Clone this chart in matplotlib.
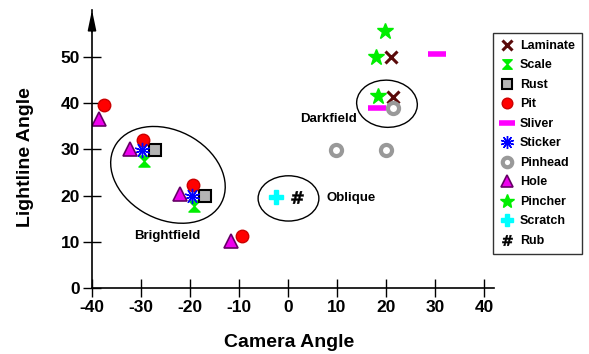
import numpy as np
import matplotlib
matplotlib.use("Agg")
import matplotlib.pyplot as plt
from matplotlib.patches import Ellipse
from matplotlib.path import Path

plt.rcParams['font.family'] = ['Liberation Sans', 'DejaVu Sans']
plt.rcParams['font.weight'] = 'bold'
plt.rcParams['axes.unicode_minus'] = False

# Data (camera angle, lightline angle) per defect type
laminate_x = [21, 21.5]
laminate_y = [50, 41.3]
scale_x = [-29.3, -19.2]
scale_y = [27.5, 17.7]
rust_x = [-27.2, -17]
rust_y = [29.9, 19.9]
pit_x = [-37.6, -29.6, -19.3, -9.3]
pit_y = [39.6, 32, 22.3, 11.2]
sliver_x = [30.4, 18.2]
sliver_y = [50.6, 39]
sticker_x = [-29.7, -19.5]
sticker_y = [29.9, 19.9]
pinhead_x = [21.4, 9.8, 20]
pinhead_y = [39, 29.9, 29.9]
hole_x = [-38.6, -32.2, -22, -11.6]
hole_y = [36.6, 30.1, 20.4, 10.1]
pincher_x = [19.8, 18, 18.3]
pincher_y = [55.6, 50, 41.5]
scratch_x = [-2.4]
scratch_y = [19.7]
rub_x = [1.8]
rub_y = [19.6]

xticks = [-40, -30, -20, -10, 0, 10, 20, 30, 40]
yticks = [0, 10, 20, 30, 40, 50]

# grouping curves: (center x, center y, width, height, angle, label, label x, label y)
groups = [
    (-24.5, 24.5, 25.0, 19.0, -33, "Brightfield", -24.7, 11.3),
    (20.2, 39.9, 12.4, 10.2, -5, "Darkfield", 8.3, 36.6),
    (0.1, 19.4, 12.4, 9.8, 0, "Oblique", 12.9, 19.4),
]

hourglass = Path([(-1, 1), (1, 1), (0, 0), (1, -1), (-1, -1), (0, 0), (-1, 1)],
                 [Path.MOVETO, Path.LINETO, Path.LINETO, Path.LINETO,
                  Path.LINETO, Path.LINETO, Path.CLOSEPOLY])

fig = plt.figure(figsize=(5.89, 3.54), dpi=100)
ax = fig.add_axes([92 / 589, 66 / 354, 401.8 / 589, 278 / 354])
ax.set_xlim(-40, 42)
ax.set_ylim(0, 60.2)

for cx, cy, w, h, ang, lab, lx, ly in groups:
    ax.add_patch(Ellipse((cx, cy), w, h, angle=ang, fill=False, ec='black', lw=1.0))
    ax.text(lx, ly, lab, ha='center', va='center', fontsize=9.5, fontweight='bold')

ax.plot(laminate_x, laminate_y, ls='none', marker='x', color='#5a0a0a', ms=8, mew=2.2, label='Laminate')
ax.plot(scale_x, scale_y, ls='none', marker=hourglass, color='#00ee00', ms=8, mec='#00ee00', label='Scale')
ax.plot(rust_x, rust_y, ls='none', marker='s', mfc='#b4b4b4', mec='black', ms=8, mew=1.5, label='Rust')
ax.plot(pit_x, pit_y, ls='none', marker='o', mfc='red', mec='#cc0000', ms=9, label='Pit')
ax.plot(sliver_x, sliver_y, ls='none', marker='_', color='#ff00ff', ms=13, mew=4, label='Sliver')
ax.plot(sticker_x, sticker_y, ls='none', marker=(10, 2, 0), color='blue', ms=11, mew=1.0, label='Sticker')
ax.plot(pinhead_x, pinhead_y, ls='none', marker='o', mfc='white', mec='#999999', ms=8, mew=3, label='Pinhead')
ax.plot(hole_x, hole_y, ls='none', marker='^', mfc='#ee00ee', mec='#660066', ms=10, mew=1.2, label='Hole')
ax.plot(pincher_x, pincher_y, ls='none', marker='*', color='#00ee00', ms=12, label='Pincher')
ax.plot(scratch_x, scratch_y, ls='none', marker='P', mfc='cyan', mec='cyan', ms=10, label='Scratch')
ax.plot(rub_x, rub_y, ls='none', marker=r'$\#$', color='black', ms=9, mew=0.3, label='Rub')

for s in ['top', 'right']:
    ax.spines[s].set_visible(False)
ax.spines['left'].set_linewidth(1.2)
ax.spines['bottom'].set_linewidth(1.2)
ax.set_xticks(xticks)
ax.set_yticks(yticks)
ax.tick_params(direction='inout', length=13, width=1.0, labelsize=12.5, pad=2)
for t in ax.get_xticklabels() + ax.get_yticklabels():
    t.set_fontweight('bold')
ax.annotate('', xy=(-40, 60.2), xytext=(-40, 55.5), annotation_clip=False,
            arrowprops=dict(arrowstyle='-|>,head_length=1.2,head_width=0.25',
                            color='black', lw=1.2, shrinkA=0, shrinkB=0))

ax.set_xlabel('Camera Angle', fontsize=14, fontweight='bold')
ax.set_ylabel('Lightline Angle', fontsize=14, fontweight='bold')
ax.xaxis.set_label_coords(0.49, -0.165)
ax.yaxis.set_label_coords(-0.145, 0.47)

leg = ax.legend(loc='upper left', bbox_to_anchor=(493 / 589, 1 - 33 / 354),
                bbox_transform=fig.transFigure, prop={'weight': 'bold', 'size': 9},
                frameon=True, fancybox=False, edgecolor='black', handlelength=1.2,
                handletextpad=0.4, labelspacing=0.6, borderpad=0.55, borderaxespad=0,
                markerscale=0.85)
leg.get_frame().set_linewidth(1.0)

fig.savefig('out.png', dpi=100)
